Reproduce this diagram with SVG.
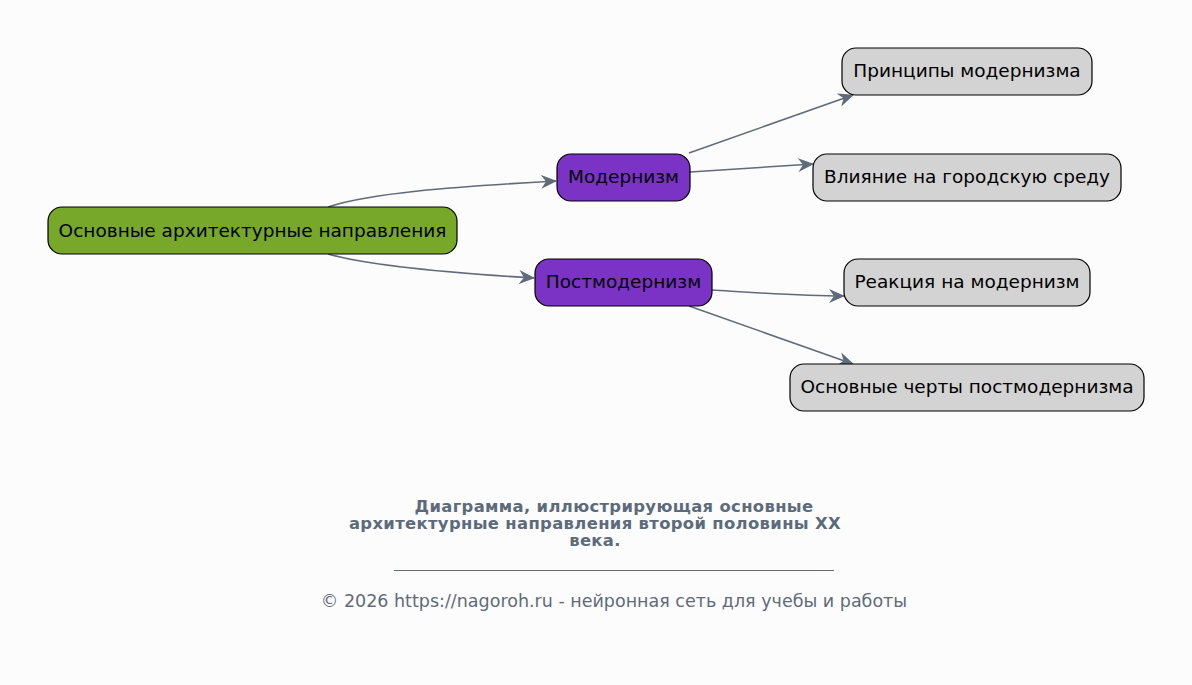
<svg xmlns="http://www.w3.org/2000/svg" width="1192" height="685" viewBox="0 0 1192 685">
<style>
.node rect{stroke:#000;stroke-width:1.2}
.node text{font-family:"DejaVu Sans",sans-serif;font-size:18.5px;fill:#000;text-anchor:middle;dominant-baseline:central}
.edge{fill:none;stroke:#5f6b7a;stroke-width:1.6;marker-end:url(#arr)}
.title{font-family:"DejaVu Sans",sans-serif;font-size:16.4px;letter-spacing:0.35px;font-weight:bold;fill:#5c6b7b;text-anchor:middle}
.foot{font-family:"DejaVu Sans",sans-serif;font-size:17.5px;fill:#5f6b7a;text-anchor:middle}
</style>
<defs>
<marker id="arr" viewBox="0 0 16 14" refX="15" refY="7" markerWidth="16" markerHeight="14" markerUnits="userSpaceOnUse" orient="auto">
<path d="M0,0 L16,7 L0,14 L5,7 z" fill="#5f6b7a"/>
</marker>
</defs>
<rect width="1192" height="685" fill="#fcfcfc"/>
<g id="edges">
<path class="edge" d="M328,207 C370,193 450,187 556,181"/>
<path class="edge" d="M328,254 C370,266 450,273 534,278"/>
<path class="edge" d="M689,153 L853,95"/>
<path class="edge" d="M690,172 L813,164"/>
<path class="edge" d="M712,290 C760,293 800,296 844,296"/>
<path class="edge" d="M689,306 L853,364"/>
</g>
<g id="n-root" class="node"><rect x="48" y="207" width="409" height="47" rx="14" fill="#77a82a"/><text x="252.5" y="230.5">Основные архитектурные направления</text></g>
<g id="n-modern" class="node"><rect x="557" y="154" width="133" height="47" rx="14" fill="#7b33c6"/><text x="623.5" y="176.5">Модернизм</text></g>
<g id="n-postmodern" class="node"><rect x="535" y="259" width="177" height="47" rx="14" fill="#7b33c6"/><text x="623.5" y="281.5">Постмодернизм</text></g>
<g id="n-principles" class="node"><rect x="842" y="48" width="250" height="47" rx="14" fill="#d3d3d3"/><text x="967" y="70.5">Принципы модернизма</text></g>
<g id="n-influence" class="node"><rect x="813" y="154" width="308" height="47" rx="14" fill="#d3d3d3"/><text x="967" y="176.5">Влияние на городскую среду</text></g>
<g id="n-reaction" class="node"><rect x="844" y="259" width="246" height="47" rx="14" fill="#d3d3d3"/><text x="967" y="281.5">Реакция на модернизм</text></g>
<g id="n-features" class="node"><rect x="790" y="364" width="354" height="47" rx="14" fill="#d3d3d3"/><text x="967" y="386.5">Основные черты постмодернизма</text></g>
<g id="caption">
<text class="title" x="614" y="512">Диаграмма, иллюстрирующая основные</text>
<text class="title" x="595" y="529">архитектурные направления второй половины XX</text>
<text class="title" x="595" y="546">века.</text>
<line x1="394" y1="570.5" x2="834" y2="570.5" stroke="#5f6b7a" stroke-width="1"/>
<text class="foot" x="614" y="607">© 2026 https://nagoroh.ru - нейронная сеть для учебы и работы</text>
</g>
</svg>
